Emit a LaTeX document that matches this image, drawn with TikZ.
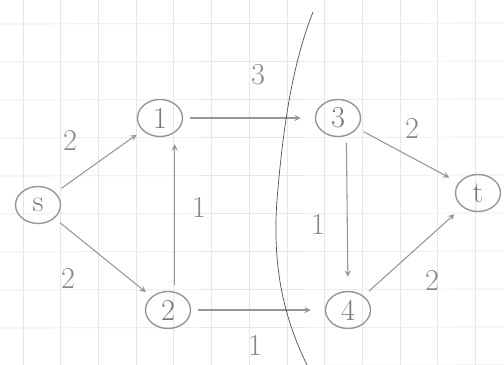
\documentclass[tikz,border=0pt]{standalone}
\usetikzlibrary{shapes.geometric}
\begin{document}
\begin{tikzpicture}[>=stealth, x=0.02cm, y=-0.02cm, font=\LARGE]
		\definecolor{pencil}{RGB}{150, 150, 150}
		\definecolor{gridgray}{RGB}{230, 230, 230}
		\definecolor{cutgray}{RGB}{80, 80, 80}
		\tikzset{
			vertex/.style={draw=pencil, thick, ellipse, minimum width=0.9cm, minimum height=0.74cm, inner sep=0pt, text=pencil!80!black, font=\LARGE},
			arc/.style={->, pencil, semithick, shorten >=4pt, shorten <=4pt},
			cost/.style={text=pencil!90!black}
		}
		\useasboundingbox (0,0) rectangle (504,365);
		
		% 方格纸
		\foreach \i in {0,...,13}
			\draw[gridgray, thin] ({23+37.7*\i},0) -- ({23+37.7*\i},365);
		\foreach \j in {0,...,9}
			\draw[gridgray, thin] (0,{24+38*\j}) -- (504,{23+38*\j});
		
		% 顶点
		\node[vertex] (s) at (38,205) {s};
		\node[vertex] (n1) at (160,118) {1};
		\node[vertex] (n3) at (338,118) {3};
		\node[vertex] (n2) at (168,310) {2};
		\node[vertex] (n4) at (348,310) {4};
		\node[vertex] (t) at (478,193) {t};
		
		% 边
		\draw[arc] (s) -- (n1);
		\draw[arc] (s) -- (n2);
		\draw[arc, shorten >=8pt] (n1) -- (n3);
		\draw[arc] (n2.70) -- (n2.70 |- n1.south);
		\draw[arc, shorten >=8pt] (n2) -- (n4);
		\draw[arc, shorten >=8pt] (n3.-65) -- (n4.north);
		\draw[arc, shorten >=6pt] (n3) -- (t);
		\draw[arc, shorten >=6pt] (n4) -- (t);
		
		% 容量
		\node[cost] (c1) at (70,140) {2};
		\node[cost] (c2) at (68,278) {2};
		\node[cost] (c3) at (258,75) {3};
		\node[cost] (c4) at (199,207) {1};
		\node[cost] (c5) at (255,345) {1};
		\node[cost] (c6) at (318,224) {1};
		\node[cost] (c7) at (412,128) {2};
		\node[cost] (c8) at (432,280) {2};
		
		% 割
		\draw[cutgray, thin] (313,12) .. controls (290,70) and (282,140) .. (277,200)
			.. controls (272,270) and (285,320) .. (307,365);
	\end{tikzpicture}
\end{document}
